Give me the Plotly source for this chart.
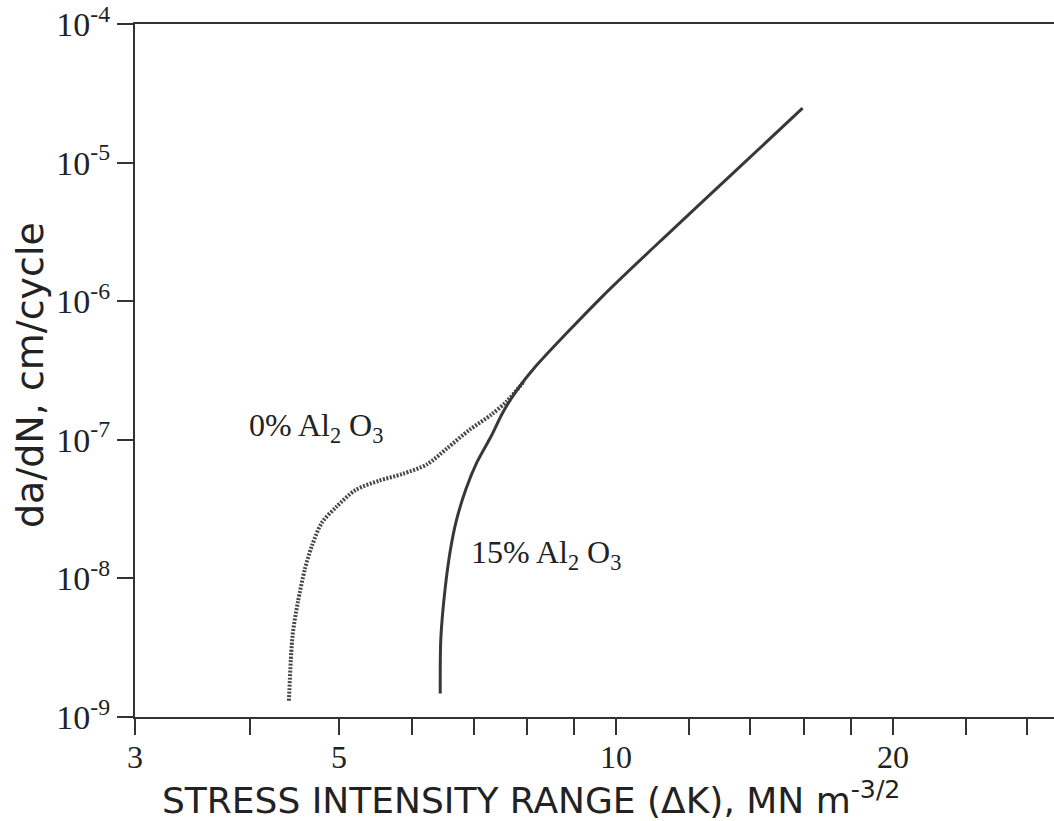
import math
import plotly.graph_objects as go

# --- data (ΔK in MN m^-3/2, da/dN in cm/cycle) ---
dk_15 = [6.44, 6.45, 6.52, 6.61, 6.70, 6.87, 7.06, 7.32, 7.53, 7.81, 8.14,
         9.66, 11.46, 13.52, 15.95]
rate_15 = [1.48e-9, 3.69e-9, 8.47e-9, 1.64e-8, 2.56e-8, 4.43e-8, 6.89e-8,
           1.07e-7, 1.57e-7, 2.30e-7, 3.27e-7, 1.08e-6, 3.18e-6, 8.85e-6,
           2.47e-5]

dk_0 = [4.41, 4.45, 4.51, 4.59, 4.67, 4.79, 4.97, 5.21, 5.53, 5.86, 6.23,
        6.55, 6.93, 7.32, 7.61, 7.95]
rate_0 = [1.31e-9, 3.86e-9, 6.76e-9, 1.17e-8, 1.71e-8, 2.53e-8, 3.30e-8,
          4.34e-8, 5.08e-8, 5.67e-8, 6.65e-8, 8.67e-8, 1.18e-7, 1.52e-7,
          1.90e-7, 2.66e-7]

x_major = [3, 5, 10, 20]
x_major_text = ["3", "5", "10", "20"]
x_minor = [4, 6, 7, 8, 9, 12, 14, 16, 18, 24, 28]
y_tickvals = [1e-9, 1e-8, 1e-7, 1e-6, 1e-5, 1e-4]
y_ticktext = ["10<sup>-9</sup>", "10<sup>-8</sup>", "10<sup>-7</sup>",
              "10<sup>-6</sup>", "10<sup>-5</sup>", "10<sup>-4</sup>"]

label_0 = "0% Al<sub>2</sub> O<sub>3</sub>"
label_15 = "15% Al<sub>2</sub> O<sub>3</sub>"
x_title = "STRESS INTENSITY RANGE (ΔK), MN m<sup>-3/2</sup>"
y_title = "da/dN, cm/cycle"

W, H = 1054, 821
L, T, B, R = 135, 24, 104, 0
PW, PH = W - L - R, H - T - B

def px(xp):
    return (xp - L) / PW

def py(yp):
    return (H - B - yp) / PH

fig = go.Figure()
fig.add_trace(go.Scatter(x=dk_0, y=rate_0, mode="lines",
                         line=dict(color="#474747", width=4, dash="2px,1.5px",
                                   shape="spline", smoothing=0.8),
                         showlegend=False, hoverinfo="skip"))
fig.add_trace(go.Scatter(x=dk_15, y=rate_15, mode="lines",
                         line=dict(color="#383838", width=3,
                                   shape="spline", smoothing=0.8),
                         showlegend=False, hoverinfo="skip"))

serif = "Liberation Serif, Times New Roman, serif"
sans = "DejaVu Sans, sans-serif"

fig.update_layout(
    width=W, height=H,
    margin=dict(l=L, r=R, t=T, b=B),
    paper_bgcolor="white", plot_bgcolor="white",
    xaxis=dict(type="log",
               range=[math.log10(3), math.log10(3) + PW / 920.0],
               tickmode="array", tickvals=x_major, ticktext=x_major_text,
               ticks="outside", ticklen=16, tickwidth=2, tickcolor="#333",
               ticklabelstandoff=-5,
               minor=dict(tickmode="array", tickvals=x_minor, ticks="outside",
                          ticklen=16, tickwidth=2, tickcolor="#333",
                          showgrid=False),
               showline=True, linecolor="#333", linewidth=2, mirror=True,
               showgrid=False, zeroline=False,
               tickfont=dict(family=serif, size=32, color="#222")),
    yaxis=dict(type="log", range=[-9, -4],
               tickmode="array", tickvals=y_tickvals, ticktext=y_ticktext,
               ticks="outside", ticklen=16, tickwidth=2, tickcolor="#333",
               ticklabeloverflow="allow",
               showline=True, linecolor="#333", linewidth=2, mirror=False,
               showgrid=False, zeroline=False,
               tickfont=dict(family=serif, size=34, color="#222")),
)

fig.add_annotation(text=label_0, xref="paper", yref="paper",
                   x=px(247), y=py(428), xanchor="left", yanchor="middle",
                   showarrow=False, font=dict(family=serif, size=32, color="#222"))
fig.add_annotation(text=label_15, xref="paper", yref="paper",
                   x=px(469), y=py(554), xanchor="left", yanchor="middle",
                   showarrow=False, font=dict(family=serif, size=32, color="#222"))
fig.add_annotation(text=x_title, xref="paper", yref="paper",
                   x=px(531), y=py(798), xanchor="center", yanchor="middle",
                   showarrow=False, font=dict(family=sans, size=36, color="#222"))
fig.add_annotation(text=y_title, xref="paper", yref="paper",
                   x=px(30), y=py(375), xanchor="center", yanchor="middle",
                   textangle=-90, showarrow=False,
                   font=dict(family=sans, size=38, color="#222"))

fig.write_html("out.html")
